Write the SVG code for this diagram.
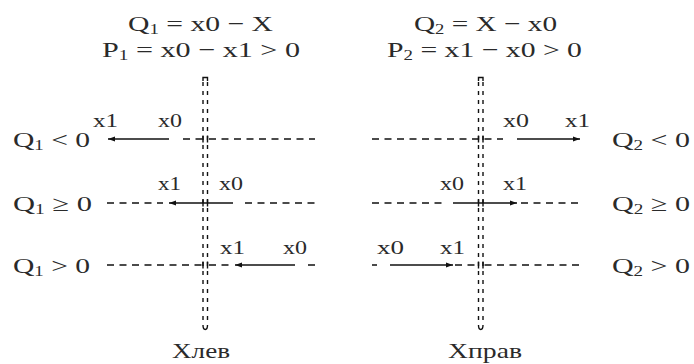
<svg xmlns="http://www.w3.org/2000/svg" width="694" height="364" viewBox="0 0 694 364">
<style>
text{font-family:"Liberation Serif","Times New Roman",serif;fill:#2a2a2a}
.big{font-size:22px}
.sm{font-size:19px}
.sub{font-size:14px}
.dash{fill:none;stroke:#111;stroke-width:1.3;stroke-dasharray:7 5.5}
.vd{fill:none;stroke:#111;stroke-width:1.4;stroke-dasharray:4 5}
.solid{fill:none;stroke:#111;stroke-width:1.4}
.arr{fill:none;stroke:#111;stroke-width:1.5;marker-end:url(#ah)}
</style>
<defs>
<marker id="ah" markerUnits="userSpaceOnUse" markerWidth="8" markerHeight="6" refX="7" refY="3" orient="auto">
<path d="M0,0.6 L7,3 L0,5.4 z" fill="#111"/>
</marker>
</defs>
<rect width="694" height="364" fill="#fff"/>

<g id="title-left">
<text class="big" x="128" y="31" textLength="145" lengthAdjust="spacingAndGlyphs">Q<tspan class="sub" dy="3">1</tspan><tspan dy="-3"> = x0 − X</tspan></text>
<text class="big" x="102" y="57" textLength="198" lengthAdjust="spacingAndGlyphs">P<tspan class="sub" dy="3">1</tspan><tspan dy="-3"> = x0 − x1 &gt; 0</tspan></text>
</g>
<g id="title-right">
<text class="big" x="414" y="31" textLength="143" lengthAdjust="spacingAndGlyphs">Q<tspan class="sub" dy="3">2</tspan><tspan dy="-3"> = X − x0</tspan></text>
<text class="big" x="387" y="57" textLength="195" lengthAdjust="spacingAndGlyphs">P<tspan class="sub" dy="3">2</tspan><tspan dy="-3"> = x1 − x0 &gt; 0</tspan></text>
</g>

<g id="labels-left">
<text class="big" x="13" y="147" textLength="77" lengthAdjust="spacingAndGlyphs">Q<tspan class="sub" dy="3">1</tspan><tspan dy="-3"> &lt; 0</tspan></text>
<text class="big" x="13" y="211" textLength="79" lengthAdjust="spacingAndGlyphs">Q<tspan class="sub" dy="3">1</tspan><tspan dy="-3"> ≥ 0</tspan></text>
<text class="big" x="13" y="273" textLength="77" lengthAdjust="spacingAndGlyphs">Q<tspan class="sub" dy="3">1</tspan><tspan dy="-3"> &gt; 0</tspan></text>
</g>
<g id="labels-right">
<text class="big" x="612" y="147" textLength="78" lengthAdjust="spacingAndGlyphs">Q<tspan class="sub" dy="3">2</tspan><tspan dy="-3"> &lt; 0</tspan></text>
<text class="big" x="612" y="211" textLength="78" lengthAdjust="spacingAndGlyphs">Q<tspan class="sub" dy="3">2</tspan><tspan dy="-3"> ≥ 0</tspan></text>
<text class="big" x="612" y="273" textLength="78" lengthAdjust="spacingAndGlyphs">Q<tspan class="sub" dy="3">2</tspan><tspan dy="-3"> &gt; 0</tspan></text>
</g>

<g id="x-left">
<path class="vd" d="M203,82 V325 M207.5,82 V325"/>
<path class="solid" d="M203,81 V77.5 H207.5 V81"/>
<path class="solid" d="M203,325 Q203,329.5 205.25,329.5 Q207.5,329.5 207.5,325"/>
<path class="solid" d="M203,135.5 V142.5 M207.5,135.5 V142.5 M203,199.5 V206.5 M207.5,199.5 V206.5 M203,261.5 V268.5 M207.5,261.5 V268.5"/>
<text class="big" x="172" y="358" textLength="58" lengthAdjust="spacingAndGlyphs">Хлев</text>
</g>
<g id="x-right">
<path class="vd" d="M478.5,82 V325 M483,82 V325"/>
<path class="solid" d="M478.5,81 V77.5 H483 V81"/>
<path class="solid" d="M478.5,325 Q478.5,329.5 480.75,329.5 Q483,329.5 483,325"/>
<path class="solid" d="M478.5,135.5 V142.5 M483,135.5 V142.5 M478.5,199.5 V206.5 M483,199.5 V206.5 M478.5,261.5 V268.5 M483,261.5 V268.5"/>
<text class="big" x="448" y="358" textLength="74" lengthAdjust="spacingAndGlyphs">Хправ</text>
</g>

<g id="point-labels">
<text class="sm" x="93" y="127" textLength="25" lengthAdjust="spacingAndGlyphs">x1</text>
<text class="sm" x="158" y="127" textLength="24" lengthAdjust="spacingAndGlyphs">x0</text>
<text class="sm" x="158" y="190" textLength="23" lengthAdjust="spacingAndGlyphs">x1</text>
<text class="sm" x="219" y="190" textLength="24" lengthAdjust="spacingAndGlyphs">x0</text>
<text class="sm" x="220" y="254" textLength="25" lengthAdjust="spacingAndGlyphs">x1</text>
<text class="sm" x="283" y="254" textLength="24" lengthAdjust="spacingAndGlyphs">x0</text>
<text class="sm" x="503" y="127" textLength="26" lengthAdjust="spacingAndGlyphs">x0</text>
<text class="sm" x="565" y="127" textLength="25" lengthAdjust="spacingAndGlyphs">x1</text>
<text class="sm" x="440" y="190" textLength="24" lengthAdjust="spacingAndGlyphs">x0</text>
<text class="sm" x="503" y="190" textLength="24" lengthAdjust="spacingAndGlyphs">x1</text>
<text class="sm" x="377" y="254" textLength="27" lengthAdjust="spacingAndGlyphs">x0</text>
<text class="sm" x="440" y="254" textLength="25" lengthAdjust="spacingAndGlyphs">x1</text>
</g>

<g id="connectors">
<path class="dash" d="M183,139 H203 M209,139 H315"/>
<path class="arr" d="M169,139 H108"/>
<path class="dash" d="M107,203 H163 M245,203 H315"/>
<path class="arr" d="M233,203 H169"/>
<path class="dash" d="M107,265 H203 M209,265 H231 M308,265 H315"/>
<path class="arr" d="M295,265 H235"/>
<path class="dash" d="M372,139 H478.5 M484.5,139 H503"/>
<path class="arr" d="M517,139 H580"/>
<path class="dash" d="M372,203 H442 M521,203 H581"/>
<path class="arr" d="M453,203 H517"/>
<path class="dash" d="M372,265 H377 M455,265 H478.5 M484.5,265 H581"/>
<path class="arr" d="M390,265 H453"/>
</g>
</svg>
